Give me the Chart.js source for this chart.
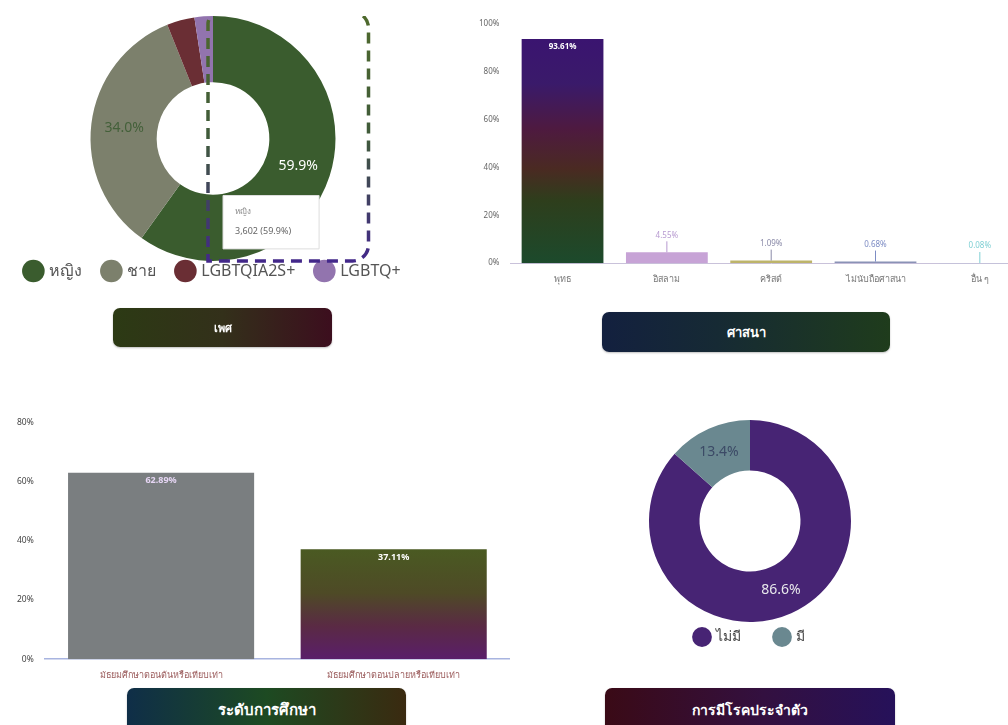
<!DOCTYPE html>
<html>
<head>
<meta charset="utf-8">
<script src="https://cdn.jsdelivr.net/npm/chart.js@4"></script>
<style>
  html, body { margin: 0; padding: 0; background: #fff; width: 1008px; height: 725px; overflow: hidden; }
  body { position: relative; font-family: "Noto Sans", "DejaVu Sans", sans-serif; }
  .box { position: absolute; }
  .btn {
    position: absolute; color: #fff; font-weight: bold; display: flex;
    align-items: center; justify-content: center; border-radius: 7px;
    box-shadow: 0 1px 2px rgba(0,0,0,0.25);
  }
</style>
</head>
<body>
<div class="box" style="left:0; top:16px; width:426px; height:292px;"><canvas id="genderChart"></canvas></div>
<div class="box" style="left:476px; top:16px; width:556px; height:272px;"><canvas id="religionChart"></canvas></div>
<div class="box" style="left:14px; top:414px; width:496px; height:270px;"><canvas id="eduChart"></canvas></div>
<div class="box" style="left:600px; top:420px; width:300px; height:260px;"><canvas id="diseaseChart"></canvas></div>

<div class="btn" style="left:113px; top:308px; width:219px; height:39px; font-size:11px; background:linear-gradient(90deg,#2c3a14,#33301a 50%,#3c0e1e);">เพศ</div>
<div class="btn" style="left:602px; top:312px; width:288px; height:40px; font-size:13px; background:linear-gradient(90deg,#13203f,#162a34 40%,#1f3c1c);">ศาสนา</div>
<div class="btn" style="left:127px; top:688px; width:279px; height:44px; font-size:15px; background:linear-gradient(90deg,#0f2e48,#1d4a22 50%,#3a2a10);">ระดับการศึกษา</div>
<div class="btn" style="left:605px; top:688px; width:290px; height:44px; font-size:14px; background:linear-gradient(90deg,#3a0a16,#331040 55%,#26115a);">การมีโรคประจำตัว</div>

<script>
// ---- data ----
const genderLabels = ['หญิง', 'ชาย', 'LGBTQIA2S+', 'LGBTQ+'];
const genderCounts = [3602, 2045, 220, 146];

const religionLabels = ['พุทธ', 'อิสลาม', 'คริสต์', 'ไม่นับถือศาสนา', 'อื่น ๆ'];
const religionPct = [93.61, 4.55, 1.09, 0.68, 0.08];

const eduLabels = ['มัธยมศึกษาตอนต้นหรือเทียบเท่า', 'มัธยมศึกษาตอนปลายหรือเทียบเท่า'];
const eduPct = [62.89, 37.11];

const diseaseLabels = ['ไม่มี', 'มี'];
const diseasePct = [86.6, 13.4];

const FONT = '"Noto Sans", "DejaVu Sans", sans-serif';
Chart.defaults.font.family = FONT;
Chart.defaults.animation = false;

// vertical gradient running from a bar's base up to its top
function barGrad(c, stops) {
  const chart = c.chart;
  const y = chart.scales.y;
  if (!chart.chartArea || !y) return stops[stops.length - 1][1];
  const v = c.dataset.data[c.dataIndex];
  const g = chart.ctx.createLinearGradient(0, y.getPixelForValue(0), 0, y.getPixelForValue(v));
  stops.forEach(s => g.addColorStop(s[0], s[1]));
  return g;
}

// value labels drawn on slices / bars
const valueLabels = {
  id: 'valueLabels',
  afterDatasetsDraw(chart, args, opts) {
    const ctx = chart.ctx;
    const ds = chart.data.datasets[0];
    const meta = chart.getDatasetMeta(0);
    const total = ds.data.reduce((a, b) => a + b, 0);
    ctx.save();
    ctx.textAlign = 'center';
    ctx.textBaseline = 'middle';
    meta.data.forEach((el, i) => {
      const v = ds.data[i];
      if (chart.config.type === 'doughnut') {
        const share = v / total;
        if (share < 0.1) return;
        const p = el.getProps(['x', 'y', 'startAngle', 'endAngle', 'innerRadius', 'outerRadius'], true);
        const a = (p.startAngle + p.endAngle) / 2;
        const r = (p.innerRadius + p.outerRadius) / 2;
        ctx.font = (opts.size || 14) + 'px ' + FONT;
        ctx.fillStyle = opts.colors[i];
        ctx.fillText((share * 100).toFixed(1) + '%', p.x + Math.cos(a) * r, p.y + Math.sin(a) * r);
      } else {
        const p = el.getProps(['x', 'y', 'base'], true);
        const txt = v.toFixed(2) + '%';
        if (p.base - p.y > 24) {
          ctx.font = 'bold ' + (opts.size || 9) + 'px ' + FONT;
          ctx.fillStyle = opts.colors[i];
          ctx.fillText(txt, p.x, p.y + 8);
        } else {
          ctx.font = (opts.size || 9) + 'px ' + FONT;
          ctx.fillStyle = opts.colors[i];
          ctx.fillText(txt, p.x, p.y - 17);
          ctx.strokeStyle = opts.colors[i];
          ctx.lineWidth = 1;
          ctx.beginPath();
          ctx.moveTo(p.x, p.y - 11);
          ctx.lineTo(p.x, p.y);
          ctx.stroke();
        }
      }
    });
    ctx.restore();
  }
};

// pull the legend row closer to the doughnut (keeps wide item spacing)
const legendLift = {
  id: 'legendLift',
  afterLayout(chart, args, opts) {
    if (chart.legend && opts.lift) {
      chart.legend.top -= opts.lift;
      chart.legend.bottom -= opts.lift;
    }
  }
};

// dashed highlight frame around the selected slice
const highlightFrame = {
  id: 'highlightFrame',
  afterDatasetsDraw(chart) {
    const el = chart.getDatasetMeta(0).data[0];
    const p = el.getProps(['x', 'y', 'outerRadius'], true);
    const left = p.x - 5, top = p.y - p.outerRadius - 4;
    const right = p.x + p.outerRadius + 33, bottom = p.y + p.outerRadius;
    const ctx = chart.ctx;
    const g = ctx.createLinearGradient(0, top, 0, bottom);
    g.addColorStop(0, '#4f6a2c');
    g.addColorStop(0.5, '#3f5a3a');
    g.addColorStop(1, '#43288a');
    ctx.save();
    ctx.strokeStyle = g;
    ctx.lineWidth = 3.5;
    ctx.setLineDash([11, 7]);
    ctx.beginPath();
    ctx.roundRect(left, top, right - left, bottom - top, [12, 16, 16, 0]);
    ctx.stroke();
    ctx.restore();
  }
};

Chart.Tooltip.positioners.belowCenter = function (items) {
  if (!items.length) return false;
  const el = items[0].element;
  return { x: el.x + 10, y: el.y + 57 };
};

// ---- gender doughnut ----
const genderColors = ['#3a5c2e', '#7c806c', '#6a2e34', '#9274ae'];
const genderTotal = genderCounts.reduce((a, b) => a + b, 0);
const genderChart = new Chart(document.getElementById('genderChart'), {
  type: 'doughnut',
  data: {
    labels: genderLabels,
    datasets: [{
      data: genderCounts,
      backgroundColor: genderColors,
      hoverBackgroundColor: genderColors,
      borderWidth: 0,
      hoverOffset: 0
    }]
  },
  options: {
    maintainAspectRatio: false,
    responsive: true,
    cutout: '46%',
    events: [],
    plugins: {
      legendLift: { lift: 19 },
      legend: {
        position: 'bottom',
        labels: {
          usePointStyle: true,
          pointStyle: 'circle',
          boxWidth: 16,
          boxHeight: 16,
          padding: 21,
          color: '#555',
          font: { size: 16 }
        }
      },
      tooltip: {
        enabled: true,
        position: 'belowCenter',
        xAlign: 'left',
        yAlign: 'top',
        caretSize: 0,
        caretPadding: 0,
        cornerRadius: 0,
        animation: false,
        backgroundColor: '#ffffff',
        borderColor: '#dddddd',
        borderWidth: 1,
        titleColor: '#888',
        bodyColor: '#666',
        titleFont: { size: 8, weight: 'normal' },
        bodyFont: { size: 9 },
        titleMarginBottom: 10,
        padding: { top: 11, bottom: 12, left: 12, right: 28 },
        displayColors: false,
        callbacks: {
          label: (c) => c.raw.toLocaleString('en-US') + ' (' + (c.raw / genderTotal * 100).toFixed(1) + '%)'
        }
      },
      valueLabels: { colors: ['#ffffff', '#44603a', '#fff', '#fff'], size: 14 }
    }
  },
  plugins: [valueLabels, highlightFrame, legendLift]
});
genderChart.tooltip.setActiveElements([{ datasetIndex: 0, index: 0 }], { x: 0, y: 0 });
genderChart.draw();

// ---- religion bars ----
const religionColors = ['#3a1470', '#c7a3d6', '#bdb46a', '#8a92b6', '#93d2da'];
const religionFill = (c) => c.dataIndex === 0
  ? barGrad(c, [[0, '#1c4a2c'], [0.28, '#2e3e1c'], [0.42, '#4a2a22'], [0.6, '#4e1a40'], [0.8, '#3a1a6a'], [1, '#3a1470']])
  : religionColors[c.dataIndex];
new Chart(document.getElementById('religionChart'), {
  type: 'bar',
  data: {
    labels: religionLabels,
    datasets: [{
      data: religionPct,
      backgroundColor: religionFill,
      hoverBackgroundColor: religionFill,
      borderWidth: 0,
      barPercentage: 0.98,
      categoryPercentage: 0.8
    }]
  },
  options: {
    maintainAspectRatio: false,
    responsive: true,
    events: [],
    plugins: {
      legend: { display: false },
      tooltip: { enabled: false },
      valueLabels: { colors: ['#ffffff', '#b79ad0', '#8a8aa8', '#7d8cc4', '#80d0d4'], size: 8 }
    },
    scales: {
      y: {
        min: 0, max: 100,
        ticks: { stepSize: 20, callback: (v) => v + '%', color: '#666', font: { size: 8 } },
        grid: { display: false },
        border: { display: false }
      },
      x: {
        ticks: { color: '#777', font: { size: 9 } },
        grid: { display: false },
        border: { color: '#c9c2da', dash: [2, 2] }
      }
    }
  },
  plugins: [valueLabels]
});

// ---- education bars ----
const eduFill = (c) => c.dataIndex === 0
  ? '#7a7e80'
  : barGrad(c, [[0, '#5a1e6a'], [0.3, '#5a2a44'], [0.6, '#4e4a26'], [1, '#4a5a22']]);
new Chart(document.getElementById('eduChart'), {
  type: 'bar',
  data: {
    labels: eduLabels,
    datasets: [{
      data: eduPct,
      backgroundColor: eduFill,
      hoverBackgroundColor: eduFill,
      borderWidth: 0,
      barPercentage: 1.0,
      categoryPercentage: 0.8
    }]
  },
  options: {
    maintainAspectRatio: false,
    responsive: true,
    events: [],
    plugins: {
      legend: { display: false },
      tooltip: { enabled: false },
      valueLabels: { colors: ['#e6d6f4', '#ffffff'], size: 9 }
    },
    scales: {
      y: {
        min: 0, max: 80,
        ticks: { stepSize: 20, callback: (v) => v + '%', color: '#444', font: { size: 8.5 } },
        grid: { display: false },
        border: { display: false }
      },
      x: {
        ticks: { color: '#9a5a5a', font: { size: 9 } },
        grid: { display: false },
        border: { color: '#a8b4e0', width: 1.5 }
      }
    }
  },
  plugins: [valueLabels]
});

// ---- chronic disease doughnut ----
const diseaseColors = ['#472474', '#6a8890'];
new Chart(document.getElementById('diseaseChart'), {
  type: 'doughnut',
  data: {
    labels: diseaseLabels,
    datasets: [{
      data: diseasePct,
      backgroundColor: diseaseColors,
      hoverBackgroundColor: diseaseColors,
      borderWidth: 0,
      hoverOffset: 0
    }]
  },
  options: {
    maintainAspectRatio: false,
    responsive: true,
    cutout: '50%',
    events: [],
    plugins: {
      legendLift: { lift: 26 },
      legend: {
        position: 'bottom',
        labels: {
          usePointStyle: true,
          pointStyle: 'circle',
          boxWidth: 15,
          boxHeight: 15,
          padding: 34,
          color: '#444',
          font: { size: 14 }
        }
      },
      tooltip: { enabled: false },
      valueLabels: { colors: ['#e8e8ec', '#3c4a66'], size: 14 }
    }
  },
  plugins: [valueLabels, legendLift]
});
</script>
</body>
</html>
